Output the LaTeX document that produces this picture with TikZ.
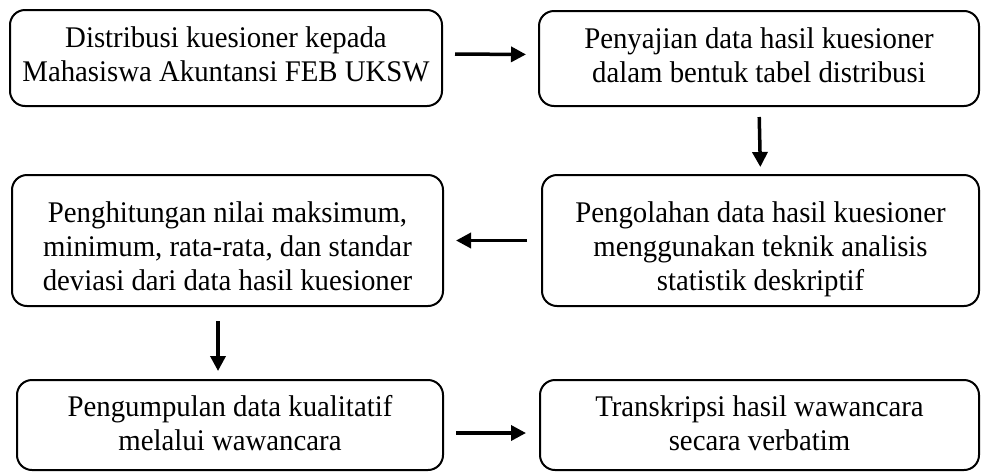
\documentclass[tikz,border=0pt]{standalone}
\usepackage{fontspec}
\setmainfont[FakeStretch=0.96]{Liberation Serif}
\usetikzlibrary{arrows.meta}
% #1: extra reported height (pushes text down by half), #2: text
\newcommand{\boxtext}[2]{\raisebox{0pt}[\dimexpr\height+#1\relax][\depth]{\begin{tabular}{@{}c@{}}#2\end{tabular}}}
\tikzset{
  box/.style={draw=black, line width=2pt, rounded corners=15pt, align=center,
    inner sep=0pt, font=\fontsize{30}{34}\selectfont},
  arr/.style={line width=3.5pt, -{Triangle[length=15pt,width=15pt]}}
}
\begin{document}
\begin{tikzpicture}[x=1pt,y=-1pt]
\useasboundingbox[fill=white] (0,0) rectangle (981,472);
\node[box, minimum width=432pt, minimum height=96pt] (b1) at (226,58)
  {\boxtext{0pt}{Distribusi kuesioner kepada\\Mahasiswa Akuntansi FEB UKSW}};
\node[box, minimum width=440pt, minimum height=95pt] (b2) at (759,58.5)
  {\boxtext{0pt}{Penyajian data hasil kuesioner\\dalam bentuk tabel distribusi}};
\node[box, minimum width=437pt, minimum height=131pt] (b3) at (760.5,240.5)
  {\boxtext{19pt}{Pengolahan data hasil kuesioner\\menggunakan teknik analisis\\statistik deskriptif}};
\node[box, minimum width=431pt, minimum height=131pt] (b4) at (227.5,240.5)
  {\boxtext{19pt}{Penghitungan nilai maksimum,\\minimum, rata-rata, dan standar\\deviasi dari data hasil kuesioner}};
\node[box, minimum width=426pt, minimum height=90pt] (b5) at (230,425)
  {\boxtext{4pt}{Pengumpulan data kualitatif\\melalui wawancara}};
\node[box, minimum width=439pt, minimum height=90pt] (b6) at (759.5,425)
  {\boxtext{4pt}{Transkripsi hasil wawancara\\secara verbatim}};
\draw[arr, shorten <=12pt, shorten >=12pt] ([yshift=4pt]b1.east) -- ([yshift=4pt]b2.west);
\draw[arr, shorten <=10pt, shorten >=7pt] (b2.south) -- (b3.north);
\draw[arr, shorten <=14pt, shorten >=12pt] (b3.west) -- (b4.east);
\draw[arr, shorten <=14pt, shorten >=8pt] ([xshift=-9.5pt]b4.south) -- ([xshift=-12pt]b5.north);
\draw[arr, shorten <=12pt, shorten >=13pt] ([yshift=-8pt]b5.east) -- ([yshift=-8pt]b6.west);
\end{tikzpicture}
\end{document}
